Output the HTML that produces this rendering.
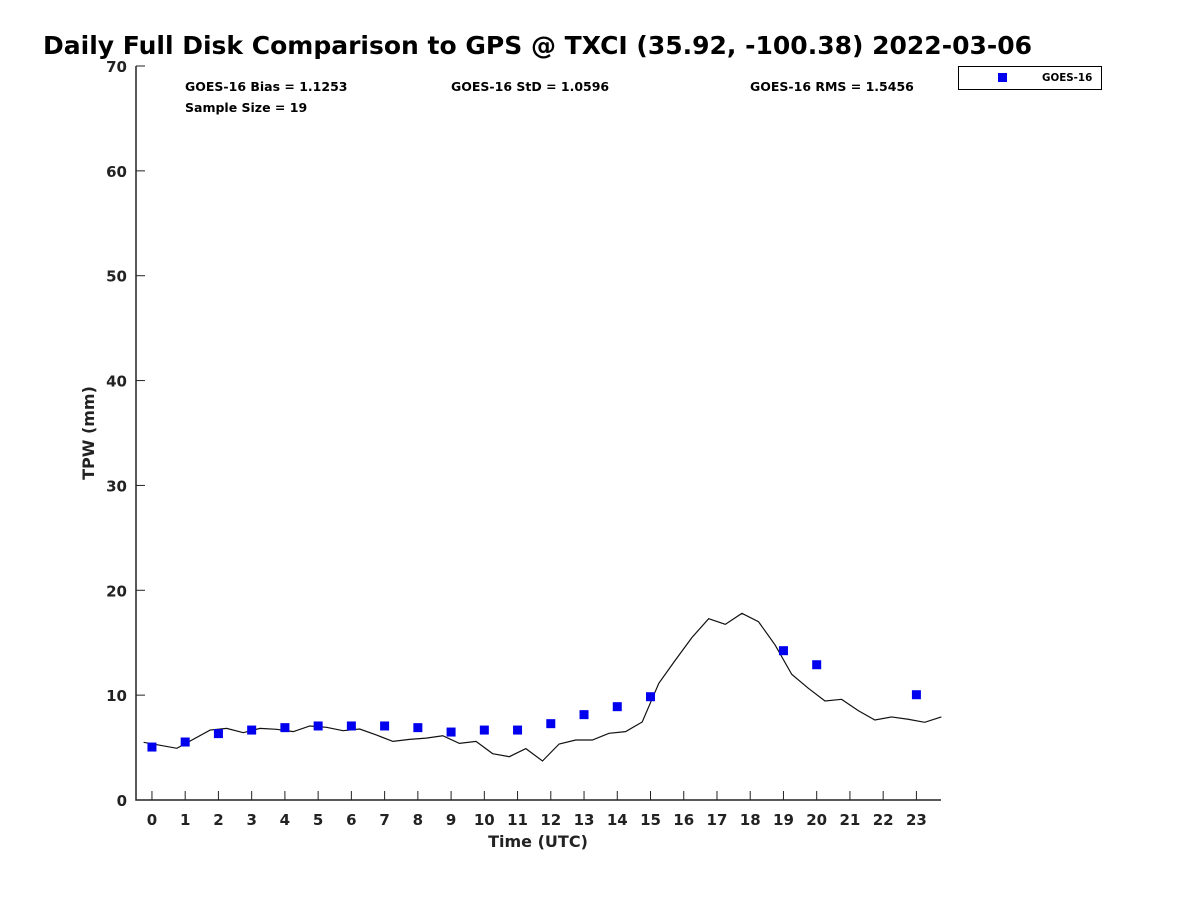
<!DOCTYPE html>
<html><head><meta charset="utf-8"><style>
body{margin:0;background:#fff;font-family:"DejaVu Sans","Liberation Sans",sans-serif;}
svg text{font-family:"DejaVu Sans","Liberation Sans",sans-serif;font-weight:bold;}
</style></head><body>
<svg id="chart" width="1200" height="900" xmlns="http://www.w3.org/2000/svg">
<rect width="1200" height="900" fill="#fff"/>
<text x="43" y="54" font-size="25" fill="#000">Daily Full Disk Comparison to GPS @ TXCI (35.92, -100.38) 2022-03-06</text>
<g id="plot"></g>
<text x="185" y="91" font-size="12.5">GOES-16 Bias = 1.1253</text>
<text x="451" y="91" font-size="12.5">GOES-16 StD = 1.0596</text>
<text x="750" y="91" font-size="12.5">GOES-16 RMS = 1.5456</text>
<text x="185" y="112" font-size="12.5">Sample Size = 19</text>
<g>
<rect x="958.5" y="66.5" width="143" height="23" fill="#fff" stroke="#000" stroke-width="1"/>
<rect x="998" y="73" width="9" height="9" fill="#0000ee"/>
<text x="1042" y="81" font-size="10.3">GOES-16</text>
</g>
<text x="538" y="847" font-size="16" text-anchor="middle" fill="#222">Time (UTC)</text>
<text transform="translate(94,433) rotate(-90)" font-size="16" text-anchor="middle" fill="#222">TPW (mm)</text>
</svg>
<script>
const gpsTimes=[-0.25,0.75,1.75,2.25,2.75,3.25,3.75,4.25,4.75,5.25,5.75,6.25,6.75,7.25,7.75,8.25,8.75,9.25,9.75,10.25,10.75,11.25,11.75,12.25,12.75,13.25,13.75,14.25,14.75,15.25,15.75,16.25,16.75,17.25,17.75,18.25,18.75,19.25,19.75,20.25,20.75,21.25,21.75,22.25,22.75,23.25,23.75];
const gpsValues=[5.5,4.93,6.67,6.83,6.42,6.83,6.74,6.52,7.06,6.93,6.61,6.77,6.2,5.59,5.78,5.9,6.13,5.4,5.59,4.42,4.13,4.9,3.72,5.34,5.72,5.72,6.36,6.52,7.44,11.13,13.35,15.51,17.29,16.75,17.8,17.0,14.78,11.98,10.65,9.44,9.6,8.52,7.63,7.92,7.7,7.41,7.92];
const goesHours=[0,1,2,3,4,5,6,7,8,9,10,11,12,13,14,15,19,20,23];
const goesValues=[5.05,5.53,6.33,6.67,6.9,7.06,7.06,7.06,6.9,6.48,6.67,6.67,7.28,8.14,8.9,9.85,14.24,12.9,10.04];
const xTicks=[0,1,2,3,4,5,6,7,8,9,10,11,12,13,14,15,16,17,18,19,20,21,22,23];
const yTicks=[0,10,20,30,40,50,60,70];
const NS="http://www.w3.org/2000/svg";
const X0=136,X1=941,Y0=800,Y1=66,xMin=-0.48,xMax=23.74,yMin=0,yMax=70;
const xs=v=>X0+(v-xMin)/(xMax-xMin)*(X1-X0);
const ys=v=>Y0-(v-yMin)/(yMax-yMin)*(Y0-Y1);
const g=document.getElementById('plot');
function mk(t,a){const e=document.createElementNS(NS,t);for(const k in a)e.setAttribute(k,a[k]);g.appendChild(e);return e;}
const ax=mk('path',{d:`M${X0},${Y1}V${Y0}H${X1}`,fill:'none',stroke:'#222','stroke-width':1.5});


xTicks.forEach(t=>{const x=xs(t);
const l=mk('line',{x1:x,x2:x,y1:Y0,y2:Y0-9,stroke:'#222','stroke-width':1});


const tx=mk('text',{x:x,y:Y0+25,'font-size':15,'text-anchor':'middle',fill:'#222'});tx.textContent=t;

});
yTicks.forEach(t=>{const y=ys(t);
const l=mk('line',{x1:X0,x2:X0+9,y1:y,y2:y,stroke:'#222','stroke-width':1});


const tx=mk('text',{x:X0-9,y:y+6,'font-size':15,'text-anchor':'end',fill:'#222'});tx.textContent=t;

});
const line=mk('polyline',{points:gpsTimes.map((t,i)=>xs(t)+','+ys(gpsValues[i])).join(' '),fill:'none',stroke:'#111','stroke-width':1.2});


goesHours.forEach((h,i)=>{const r=mk('rect',{x:xs(h)-4.5,y:ys(goesValues[i])-4.5,width:9,height:9,fill:'#0000ee'});

});
</script>
</body></html>
